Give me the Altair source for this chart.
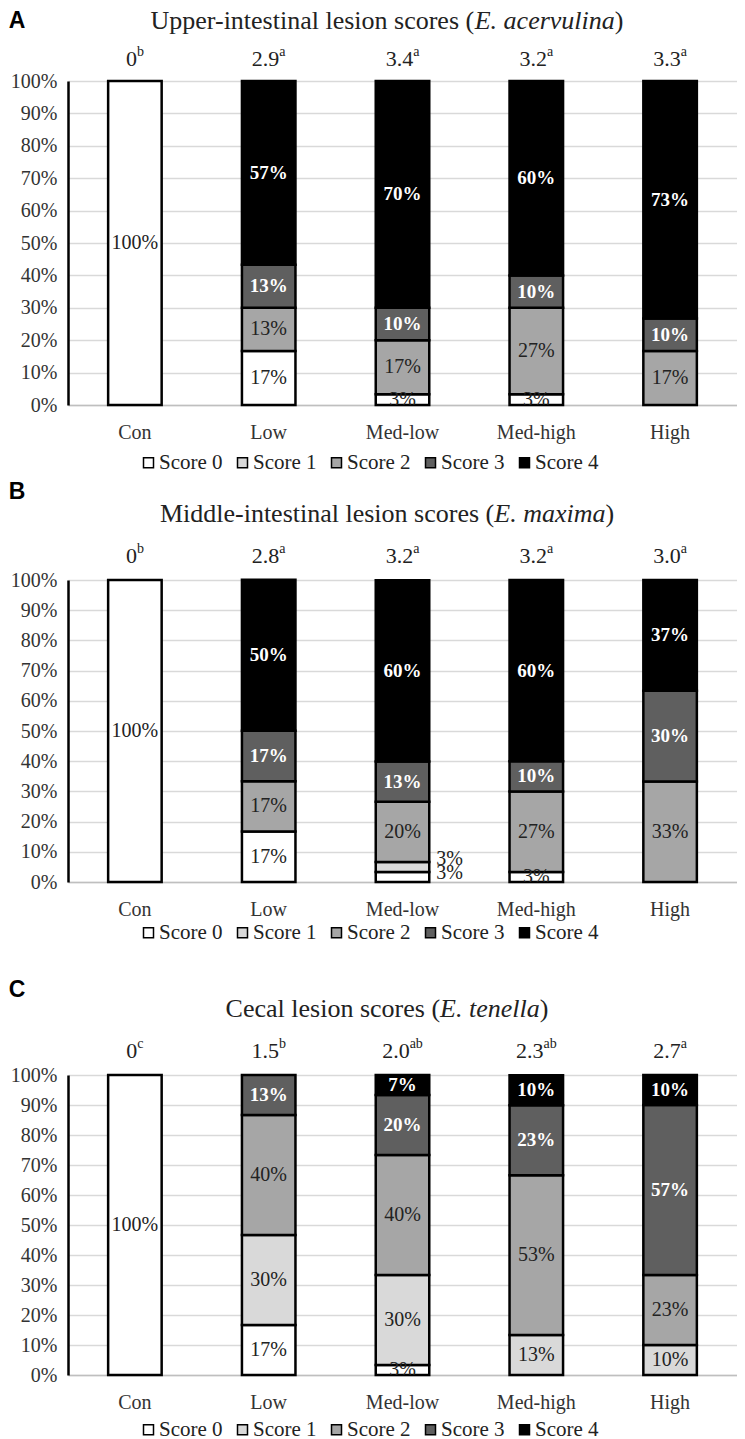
import altair as alt
import pandas as pd

SERIF = "Liberation Serif"
SANS = "Liberation Sans"

categories = ["Con", "Low", "Med-low", "Med-high", "High"]
scores = ["Score 0", "Score 1", "Score 2", "Score 3", "Score 4"]
score_colors = ["#ffffff", "#d9d9d9", "#a6a6a6", "#5f5f5f", "#000000"]

# Panel A: Upper-intestinal (E. acervulina), % of birds per score, per category
a_score0 = [100, 16.7, 3.3, 3.3, 0]
a_score1 = [0, 0, 0, 0, 0]
a_score2 = [0, 13.3, 16.7, 26.7, 16.7]
a_score3 = [0, 13.3, 10.0, 10.0, 10.0]
a_score4 = [0, 56.7, 70.0, 60.0, 73.3]
a_means = ["0", "2.9", "3.4", "3.2", "3.3"]
a_letters = ["b", "a", "a", "a", "a"]

# Panel B: Middle-intestinal (E. maxima)
b_score0 = [100, 16.7, 3.3, 3.3, 0]
b_score1 = [0, 0, 3.3, 0, 0]
b_score2 = [0, 16.7, 20.0, 26.7, 33.3]
b_score3 = [0, 16.7, 13.3, 10.0, 30.0]
b_score4 = [0, 50.0, 60.0, 60.0, 36.7]
b_means = ["0", "2.8", "3.2", "3.2", "3.0"]
b_letters = ["b", "a", "a", "a", "a"]

# Panel C: Cecal (E. tenella)
c_score0 = [100, 16.7, 3.3, 0, 0]
c_score1 = [0, 30.0, 30.0, 13.3, 10.0]
c_score2 = [0, 40.0, 40.0, 53.3, 23.3]
c_score3 = [0, 13.3, 20.0, 23.3, 56.7]
c_score4 = [0, 0, 6.7, 10.0, 10.0]
c_means = ["0", "1.5", "2.0", "2.3", "2.7"]
c_letters = ["c", "b", "ab", "ab", "a"]

# Times/Liberation Serif advance widths (per 1000 em) used to lay out mixed-style text
REG = {"U": 722, "p": 500, "e": 444, "r": 333, "-": 333, "i": 278, "n": 500, "t": 278,
       "s": 389, "l": 278, " ": 250, "c": 444, "o": 500, "(": 333, ")": 333, "a": 444,
       "d": 500, "M": 889, "C": 667, "b": 500, ".": 250}
ITA = {"E": 611, ".": 250, " ": 250, "a": 500, "c": 444, "e": 444, "r": 389, "v": 444,
       "u": 500, "l": 278, "i": 278, "n": 500, "m": 722, "x": 444, "t": 278}
for d in "0123456789":
    REG[d] = 500


def tw(s, table, size):
    return sum(table.get(ch, 500) for ch in s) * size / 1000.0


PLOT_W = 669

XAXIS = alt.Axis(title=None, labelAngle=0, ticks=False, grid=False,
                 domainColor="#bfbfbf", domainWidth=1.5,
                 labelFont=SERIF, labelFontSize=20, labelColor="#333333",
                 labelPadding=17)
YAXIS = alt.Axis(title=None, values=list(range(0, 101, 10)),
                 labelExpr="datum.value + '%'", ticks=False,
                 domainColor="black", domainWidth=2.5,
                 gridColor="#d9d9d9", gridWidth=1.5,
                 labelFont=SERIF, labelFontSize=20, labelColor="#333333",
                 labelPadding=11)
XSCALE = alt.Scale(domain=categories, paddingInner=0.6, paddingOuter=0.3)
YSCALE = alt.Scale(domain=[0, 100], nice=False)


def xenc():
    return alt.X("cat:N", sort=categories, scale=XSCALE, axis=XAXIS)


def yenc(field, stack=None):
    if stack:
        return alt.Y(field, stack=stack, scale=YSCALE, axis=YAXIS)
    return alt.Y(field, scale=YSCALE, axis=YAXIS)


def make_df(lists):
    rows = []
    for si, vals in enumerate(lists):
        for ci, v in enumerate(vals):
            if v > 0:
                rows.append({"cat": categories[ci], "score": scores[si], "idx": si, "value": v})
    return pd.DataFrame(rows)


def panel(lists, means, letters, letter, t_norm, t_ital, H, y_letter, y_title, y_mean,
          legend_y, outside=None):
    df = make_df(lists)
    base = alt.Chart(df)
    bars = base.mark_bar(stroke="black", strokeWidth=2.5).encode(
        x=xenc(),
        y=yenc("value:Q", "zero"),
        color=alt.Color("score:N", scale=alt.Scale(domain=scores, range=score_colors),
                        legend=alt.Legend(title=None, orient="none", legendX=70,
                                          legendY=legend_y, direction="horizontal",
                                          columns=5, symbolType="square", symbolSize=100,
                                          symbolStrokeColor="black", symbolStrokeWidth=1.5,
                                          labelFont=SERIF, labelFontSize=21,
                                          labelColor="#222222", columnPadding=9,
                                          labelOffset=0, padding=0)),
        order=alt.Order("idx:Q", sort="ascending"),
    )
    lab = base.transform_stack(
        stack="value", groupby=["cat"], sort=[alt.SortField("idx", order="ascending")],
        as_=["v0", "v1"]
    ).transform_calculate(
        mid="(datum.v0 + datum.v1) / 2",
        lab="format(datum.value, '.0f') + '%'",
    )
    if outside:
        cond = "datum.cat == '%s' && datum.idx <= 1" % outside
        lab_in = lab.transform_filter("!(" + cond + ")")
    else:
        lab_in = lab
    enc = dict(x=xenc(), y=yenc("mid:Q"), text="lab:N")
    dark = lab_in.transform_filter("datum.idx <= 2").mark_text(
        font=SERIF, fontSize=20, color="#222222", clip=True).encode(**enc)
    light = lab_in.transform_filter("datum.idx >= 3").mark_text(
        font=SERIF, fontSize=19, fontWeight="bold", color="white", clip=True).encode(**enc)
    layers = [bars, dark, light]
    if outside:
        # small slices whose labels sit to the right of the bar
        for idx, ddy in ((1, -8), (0, -4)):
            layers.append(lab.transform_filter(cond).transform_filter(
                "datum.idx == %d" % idx).mark_text(
                font=SERIF, fontSize=20, color="#222222", dx=47, dy=ddy,
                clip=True).encode(**enc))

    # mean score labels with superscript letters
    for cat, m, l in zip(categories, means, letters):
        wn = tw(m, REG, 22)
        ws = tw(l, REG, 14)
        start = -(wn + ws) / 2
        d1 = pd.DataFrame({"cat": [cat], "t": [m]})
        d2 = pd.DataFrame({"cat": [cat], "t": [l]})
        layers.append(alt.Chart(d1).mark_text(font=SERIF, fontSize=22, color="#222222",
                                              align="left", dx=start).encode(
            x=xenc(), y=alt.value(y_mean), text="t:N"))
        layers.append(alt.Chart(d2).mark_text(font=SERIF, fontSize=14, color="#222222",
                                              align="left", dx=start + wn, dy=-7).encode(
            x=xenc(), y=alt.value(y_mean), text="t:N"))

    # title with italic species name
    w1 = tw(t_norm, REG, 26)
    w2 = tw(t_ital, ITA, 26)
    w3 = tw(")", REG, 26)
    x0 = 319 - (w1 + w2 + w3) / 2
    parts = [(t_norm, x0, "normal"), (t_ital, x0 + w1, "italic"), (")", x0 + w1 + w2, "normal")]
    for txt, px, style in parts:
        layers.append(alt.Chart(pd.DataFrame({"t": [txt]})).mark_text(
            font=SERIF, fontSize=26, fontStyle=style, color="#222222", align="left").encode(
            x=alt.value(px), y=alt.value(y_title), text="t:N"))
    layers.append(alt.Chart(pd.DataFrame({"t": [letter]})).mark_text(
        font=SANS, fontSize=23, fontWeight="bold", color="black", align="center").encode(
        x=alt.value(-51), y=alt.value(y_letter), text="t:N"))

    return alt.layer(*layers).properties(width=PLOT_W, height=H)


pa = panel([a_score0, a_score1, a_score2, a_score3, a_score4], a_means, a_letters, "A",
           "Upper-intestinal lesion scores (", "E. acervulina", 324, -60, -60, -22, 371)
pb = panel([b_score0, b_score1, b_score2, b_score3, b_score4], b_means, b_letters, "B",
           "Middle-intestinal lesion scores (", "E. maxima", 302, -88, -66, -24, 342,
           outside="Med-low")
pc = panel([c_score0, c_score1, c_score2, c_score3, c_score4], c_means, c_letters, "C",
           "Cecal lesion scores (", "E. tenella", 300, -85, -66, -24, 344)

top = alt.vconcat(pa, pb, spacing=8).resolve_scale(
    color="independent", x="independent", y="independent"
).resolve_legend(color="independent")

chart = alt.vconcat(top, pc, spacing=36, padding=0).resolve_scale(
    color="independent", x="independent", y="independent"
).resolve_legend(color="independent").configure_view(stroke=None)

chart.save("out.html", embed_options={"renderer": "svg", "actions": False})
